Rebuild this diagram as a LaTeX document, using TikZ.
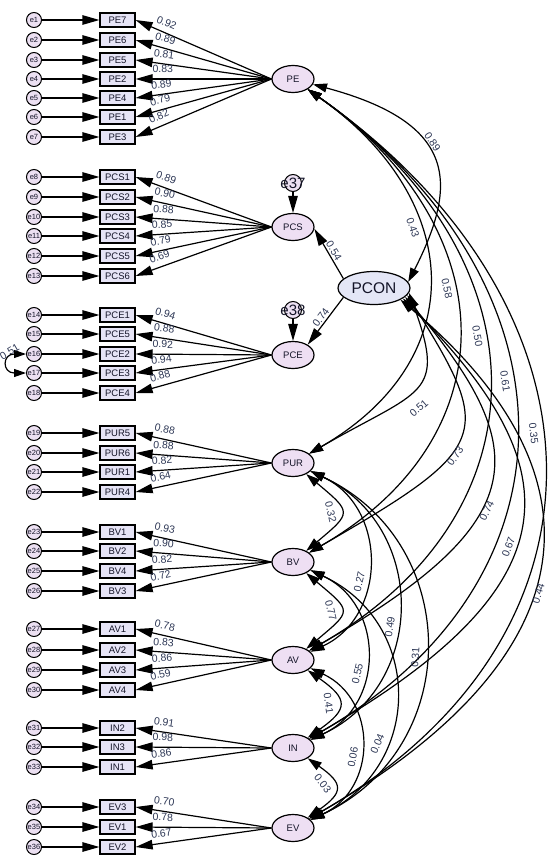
\documentclass[tikz,border=0pt]{standalone}
\usepackage{fontspec}
\setmainfont{Liberation Sans}
\usetikzlibrary{arrows.meta,shapes.geometric}
\definecolor{boxfill}{RGB}{230,228,246}
\definecolor{latfill}{RGB}{238,223,243}
\definecolor{errfill}{RGB}{236,224,242}
\definecolor{pconfill}{RGB}{228,230,246}
\definecolor{numcol}{RGB}{45,55,85}
\definecolor{txtcol}{RGB}{20,20,40}
\begin{document}
\begin{tikzpicture}[x=1pt,y=1pt,
  err/.style={circle,draw,line width=1pt,fill=errfill,minimum size=15pt,inner sep=0pt,text=txtcol,font=\fontsize{7.5}{8}\selectfont},
  errbig/.style={circle,draw,line width=1pt,fill=errfill,minimum size=17pt,inner sep=0pt},
  obs/.style={rectangle,draw,line width=1.2pt,fill=boxfill,minimum width=35pt,minimum height=14pt,inner sep=0pt,text=txtcol,font=\fontsize{9.5}{10}\selectfont},
  lat/.style={ellipse,draw,line width=1.2pt,fill=latfill,minimum width=42pt,minimum height=27pt,inner sep=0pt,text=txtcol,font=\fontsize{9.5}{10}\selectfont},
  reg/.style={line width=1.2pt,-{Triangle[length=17pt,width=9.5pt]}},
  cov/.style={line width=1.2pt,{Triangle[length=14pt,width=9pt]}-{Triangle[length=14pt,width=9pt]}},
  num/.style={font=\fontsize{10.5}{11}\selectfont,text=numcol,inner sep=0.5pt},
  ld/.style={num,sloped,above=5pt,pos=0.8},
  cl/.style={num,sloped}
]
\useasboundingbox (0,0) rectangle (550,-867);

% latent variables
\node[lat] (PE) at (293,-79) {PE};
\node[lat] (PCS) at (293,-227) {PCS};
\node[lat] (PCE) at (293,-355) {PCE};
\node[lat] (PUR) at (293,-463) {PUR};
\node[lat] (BV) at (293,-562) {BV};
\node[lat] (AV) at (293,-660) {AV};
\node[lat] (IN) at (293,-748) {IN};
\node[lat] (EV) at (293,-828) {EV};
\node[lat,fill=pconfill,minimum width=72pt,minimum height=33pt,font=\fontsize{15.5}{16}\selectfont] (PCON) at (374,-288) {PCON};
\node[errbig,label={[text=txtcol,font=\fontsize{15}{16}\selectfont]center:e37}] (e37) at (293,-183) {};
\node[errbig,label={[text=txtcol,font=\fontsize{15}{16}\selectfont]center:e38}] (e38) at (293,-310) {};

% indicators, errors and loadings
\foreach \nn/\bx/\yy/\vv/\lv in {
  1/PE7/20/0.92/PE, 2/PE6/40/0.89/PE, 3/PE5/60/0.81/PE, 4/PE2/79/0.83/PE,
  5/PE4/98/0.89/PE, 6/PE1/117/0.79/PE, 7/PE3/137/0.82/PE,
  8/PCS1/177/0.89/PCS, 9/PCS2/197/0.90/PCS, 10/PCS3/217/0.88/PCS,
  11/PCS4/236/0.85/PCS, 12/PCS5/256/0.79/PCS, 13/PCS6/276/0.69/PCS,
  14/PCE1/315/0.94/PCE, 15/PCE5/334/0.88/PCE, 16/PCE2/354/0.92/PCE,
  17/PCE3/373/0.94/PCE, 18/PCE4/393/0.88/PCE,
  19/PUR5/433/0.88/PUR, 20/PUR6/453/0.88/PUR, 21/PUR1/472/0.82/PUR, 22/PUR4/492/0.64/PUR,
  23/BV1/532/0.93/BV, 24/BV2/551/0.90/BV, 25/BV4/571/0.82/BV, 26/BV3/591/0.72/BV,
  27/AV1/629/0.78/AV, 28/AV2/650/0.83/AV, 29/AV3/670/0.86/AV, 30/AV4/690/0.59/AV,
  31/IN2/728/0.91/IN, 32/IN3/747/0.98/IN, 33/IN1/767/0.86/IN,
  34/EV3/807/0.70/EV, 35/EV1/827/0.78/EV, 36/EV2/847/0.67/EV}{
  \node[err] (e\nn) at (34,-\yy) {e\nn};
  \node[obs] (\bx) at (117.5,-\yy) {\bx};
  \draw[reg] (e\nn) -- (\bx);
  \draw[reg] (\lv.west) -- node[ld]{\vv} (\bx.east);
}

% error covariance
\draw[line width=1.2pt,{Triangle[length=12pt,width=8pt]}-{Triangle[length=12pt,width=8pt]}]
  (e16.west) to[out=180,in=180,distance=24pt] node[num,sloped,pos=0.25,above=1pt]{0.51} (e17.west);

% second order structure
\draw[reg] (e37) -- (PCS);
\draw[reg] (e38) -- (PCE);
\draw[reg] (PCON.163) -- node[num,sloped,above=1pt]{0.54} (PCS.-5);
\draw[reg] (PCON.-163) -- node[num,sloped,above=1pt]{0.74} (PCE.35);

% covariances from PE
\draw[cov] (PE) to[out=-15,in=63,out distance=150pt,in distance=110pt] node[cl,pos=0.42,above=3pt]{0.89} (PCON.10);
\draw[cov] (PE) to[out=-35,in=30,distance=190pt] node[cl,pos=0.37,below=2pt]{0.43} (PUR);
\draw[cov] (PE) to[out=-35,in=30,distance=237pt] node[cl,pos=0.42,below=2pt]{0.58} (BV);
\draw[cov] (PE) to[out=-35,in=30,distance=285pt] node[cl,pos=0.43,below=2pt]{0.50} (AV);
\draw[cov] (PE) to[out=-35,in=30,distance=328pt] node[cl,pos=0.44,below=2pt]{0.61} (IN);
\draw[cov] (PE) to[out=-35,in=30,distance=372pt] node[cl,pos=0.46,below=3pt]{0.35} (EV);

% covariances from PCON
\draw[cov] (PCON.-8) to[out=-70,in=30,out distance=110pt,in distance=130pt] node[cl,pos=0.57,below=12pt]{0.51} (PUR);
\draw[cov] (PCON.-12) to[out=-58,in=30,out distance=165pt,in distance=210pt] node[cl,pos=0.58,below=1pt]{0.73} (BV);
\draw[cov] (PCON.-16) to[out=-50,in=30,out distance=200pt,in distance=260pt] node[cl,pos=0.58,below=2pt]{0.74} (AV);
\draw[cov] (PCON.-20) to[out=-45,in=30,out distance=240pt,in distance=310pt] node[cl,pos=0.56,above=1pt]{0.67} (IN);
\draw[cov] (PCON.-24) to[out=-40,in=30,out distance=265pt,in distance=335pt] node[cl,pos=0.56,below=1pt]{0.44} (EV);

% covariances among the lower factors
\draw[cov] (PUR) to[out=-40,in=40,distance=60pt] node[cl,pos=0.45,below=5pt]{0.32} (BV);
\draw[cov] (BV) to[out=-40,in=40,distance=60pt] node[cl,pos=0.45,below=5pt]{0.77} (AV);
\draw[cov] (AV) to[out=-35,in=35,distance=50pt] node[cl,pos=0.47,below=5pt]{0.41} (IN);
\draw[cov] (IN) to[out=-35,in=35,distance=44pt] node[cl,pos=0.3,below=5pt]{0.03} (EV);
\draw[cov] (PUR) to[out=-25,in=25,distance=85pt] node[cl,pos=0.6,above=2pt]{0.27} (AV);
\draw[cov] (BV) to[out=-25,in=25,distance=82pt] node[cl,pos=0.6,above=2pt]{0.55} (IN);
\draw[cov] (AV) to[out=-25,in=25,distance=74pt] node[cl,pos=0.58,above=2pt]{0.06} (EV);
\draw[cov] (PUR) to[out=-25,in=25,distance=129pt] node[cl,pos=0.57,above=2pt]{0.49} (IN);
\draw[cov] (BV) to[out=-25,in=25,distance=125pt] node[cl,pos=0.68,above=3pt]{0.04} (EV);
\draw[cov] (PUR) to[out=-25,in=25,distance=169pt] node[cl,pos=0.53,above=5pt]{0.31} (EV);
\end{tikzpicture}
\end{document}
